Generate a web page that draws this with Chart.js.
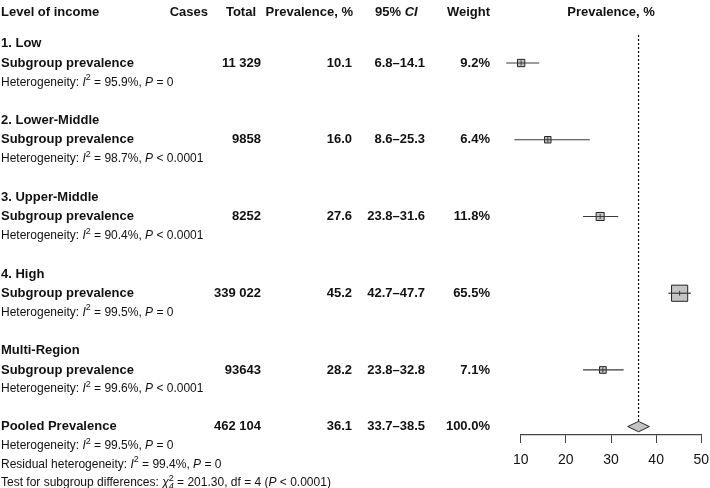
<!DOCTYPE html>
<html>
<head>
<meta charset="utf-8">
<script src="https://cdn.jsdelivr.net/npm/chart.js@4.4.1/dist/chart.umd.min.js"></script>
<style>
  html, body { margin: 0; padding: 0; background: #fff; }
  #wrap { width: 710px; height: 488px; position: relative; }
</style>
</head>
<body>
<div id="wrap"><canvas id="forest"></canvas></div>
<script>
// subgroups
const groups = ['1. Low', '2. Lower-Middle', '3. Upper-Middle', '4. High', 'Multi-Region'];
const totals = ['11 329', '9858', '8252', '339 022', '93643'];
const prevalence = [10.1, 16.0, 27.6, 45.2, 28.2];
const ciLow = [6.8, 8.6, 23.8, 42.7, 23.8];
const ciHigh = [14.1, 25.3, 31.6, 47.7, 32.8];
const weights = [9.2, 6.4, 11.8, 65.5, 7.1];
const hetI2 = [95.9, 98.7, 90.4, 99.5, 99.6];
const hetP = ['= 0', '< 0.0001', '< 0.0001', '= 0', '< 0.0001'];

// pooled estimate
const pooledTotal = '462 104';
const pooledPrev = 36.1;
const pooledLow = 33.7;
const pooledHigh = 38.5;
const pooledWeight = 100.0;
const pooledI2 = 99.5;
const pooledP = '= 0';
const residualI2 = 99.4;
const residualP = '= 0';
const testChi2 = 201.30;
const testDf = 4;
const testP = '< 0.0001';

const xTicks = [10, 20, 30, 40, 50];

const FONT = '"Liberation Sans", Arial, sans-serif';
const INK = '#111';
const LINE = '#3a3a3a';
const rowOf = i => 4 * i + 1;   // line index of the "Subgroup prevalence" row
const POOLED_ROW = 19.95;

const boxSide = w => 2 + 1.75 * Math.sqrt(w);

const ciSets = groups.map((g, i) => ({
    data: [{ x: ciLow[i], y: rowOf(i) }, { x: ciHigh[i], y: rowOf(i) }],
    showLine: true,
    borderColor: LINE,
    borderWidth: 1.2,
    pointRadius: 0,
    clip: false
}));

const datasets = [
    // little vertical mark at each estimate
    {
        data: prevalence.map((p, i) => ({ x: p, y: rowOf(i) })),
        pointStyle: 'line',
        rotation: 90,
        pointRadius: 2.5,
        borderColor: LINE,
        borderWidth: 1,
        clip: false
    },
    ...ciSets,
    // weighted boxes
    {
        data: prevalence.map((p, i) => ({ x: p, y: rowOf(i) })),
        pointStyle: 'rect',
        pointRadius: weights.map(w => boxSide(w) / Math.SQRT2),
        backgroundColor: '#c4c4c4',
        borderColor: '#222',
        borderWidth: 1,
        clip: false
    },
    // pooled diamond
    {
        data: [
            { x: pooledLow, y: POOLED_ROW },
            { x: pooledPrev, y: POOLED_ROW - 0.27 },
            { x: pooledHigh, y: POOLED_ROW },
            { x: pooledPrev, y: POOLED_ROW + 0.27 },
            { x: pooledLow, y: POOLED_ROW }
        ],
        showLine: true,
        fill: 'shape',
        backgroundColor: '#c4c4c4',
        borderColor: '#222',
        borderWidth: 1,
        pointRadius: 0,
        tension: 0,
        clip: false
    },
    // reference line at the pooled value
    {
        data: [{ x: pooledPrev, y: -0.46 }, { x: pooledPrev, y: POOLED_ROW - 0.27 }],
        showLine: true,
        borderColor: '#000',
        borderWidth: 1.2,
        borderDash: [2, 2],
        pointRadius: 0,
        clip: false
    }
];

function rich(ctx, parts, x, y, size, bold) {
    let cx = x;
    for (const p of parts) {
        const small = p.sup || p.sub;
        const s = small ? Math.round(size * 0.72) : size;
        ctx.font = `${p.i ? 'italic ' : ''}${bold ? 'bold ' : ''}${s}px ${FONT}`;
        const dy = p.sup ? -size * 0.38 : p.sub ? size * 0.3 : 0;
        ctx.fillText(p.t, cx, y + dy);
        if (!p.stack) cx += ctx.measureText(p.t).width;
    }
}

const hetParts = (i2, p) => [
    { t: 'Heterogeneity: ' }, { t: 'I', i: true }, { t: '2', sup: true },
    { t: ` = ${i2.toFixed(1)}%, ` }, { t: 'P', i: true }, { t: ` ${p}` }
];

const tablePlugin = {
    id: 'table',
    afterDraw(chart) {
        const ctx = chart.ctx;
        const y = chart.scales.y;
        const x = chart.scales.x;
        const at = v => y.getPixelForValue(v);
        ctx.save();
        ctx.fillStyle = INK;
        ctx.textBaseline = 'middle';

        // x tick labels (drawn here so they don't eat into the plot width)
        ctx.font = `14px ${FONT}`;
        ctx.textAlign = 'center';
        xTicks.forEach(v => ctx.fillText(String(v), x.getPixelForValue(v), chart.chartArea.bottom + 25));

        // header
        const hy = at(-1.66);
        ctx.font = `bold 13px ${FONT}`;
        ctx.textAlign = 'left';
        ctx.fillText('Level of income', 1, hy);
        ctx.textAlign = 'right';
        ctx.fillText('Cases', 208, hy);
        ctx.fillText('Total', 256, hy);
        ctx.fillText('Prevalence, %', 353, hy);
        ctx.fillText('Weight', 490, hy);
        ctx.textAlign = 'left';
        rich(ctx, [{ t: '95% ' }, { t: 'CI', i: true }], 375, hy, 13, true);
        ctx.font = `bold 13px ${FONT}`;
        ctx.textAlign = 'center';
        ctx.fillText('Prevalence, %', x.getPixelForValue(30), hy);

        const row = (label, total, prev, lo, hi, w, ly) => {
            ctx.font = `bold 13px ${FONT}`;
            ctx.textAlign = 'left';
            ctx.fillText(label, 1, ly);
            ctx.textAlign = 'right';
            ctx.fillText(total, 261, ly);
            ctx.fillText(prev.toFixed(1), 352, ly);
            ctx.fillText(`${lo.toFixed(1)}\u2013${hi.toFixed(1)}`, 425, ly);
            ctx.fillText(`${w.toFixed(1)}%`, 490, ly);
        };

        groups.forEach((g, i) => {
            ctx.font = `bold 13px ${FONT}`;
            ctx.textAlign = 'left';
            ctx.fillText(g, 1, at(rowOf(i) - 1));
            row('Subgroup prevalence', totals[i], prevalence[i], ciLow[i], ciHigh[i], weights[i], at(rowOf(i)));
            ctx.textAlign = 'left';
            rich(ctx, hetParts(hetI2[i], hetP[i]), 1, at(rowOf(i) + 1), 12);
        });

        row('Pooled Prevalence', pooledTotal, pooledPrev, pooledLow, pooledHigh, pooledWeight, at(POOLED_ROW));
        ctx.textAlign = 'left';
        rich(ctx, hetParts(pooledI2, pooledP), 1, at(POOLED_ROW + 1), 12);
        rich(ctx, [
            { t: 'Residual heterogeneity: ' }, { t: 'I', i: true }, { t: '2', sup: true },
            { t: ` = ${residualI2.toFixed(1)}%, ` }, { t: 'P', i: true }, { t: ` ${residualP}` }
        ], 1, at(POOLED_ROW + 1.98), 12);
        rich(ctx, [
            { t: 'Test for subgroup differences: ' }, { t: '\u03c7', i: true },
            { t: '2', sup: true, stack: true }, { t: String(testDf), sub: true, i: true },
            { t: ` = ${testChi2.toFixed(2)}, df = ${testDf} (` }, { t: 'P', i: true }, { t: ` ${testP})` }
        ], 1, at(POOLED_ROW + 2.93), 12);
        ctx.restore();
    }
};

new Chart(document.getElementById('forest'), {
    type: 'scatter',
    data: { datasets },
    options: {
        responsive: true,
        maintainAspectRatio: false,
        animation: false,
        layout: { autoPadding: false, padding: { top: 35, left: 520.7, right: 8.7, bottom: 0 } },
        plugins: { legend: { display: false }, tooltip: { enabled: false } },
        scales: {
            x: {
                type: 'linear',
                position: 'bottom',
                min: 10,
                max: 50,
                afterBuildTicks: s => { s.ticks = xTicks.map(v => ({ value: v })); },
                afterFit: s => { s.height = 53; },
                ticks: { display: false },
                grid: { drawOnChartArea: false, drawTicks: true, tickLength: 8, color: '#444', tickColor: '#444' },
                border: { display: true, color: '#444', width: 1.2 }
            },
            y: {
                type: 'linear',
                reverse: true,
                min: -0.46,
                max: 20.39,
                display: false
            }
        }
    },
    plugins: [tablePlugin]
});
</script>
</body>
</html>
